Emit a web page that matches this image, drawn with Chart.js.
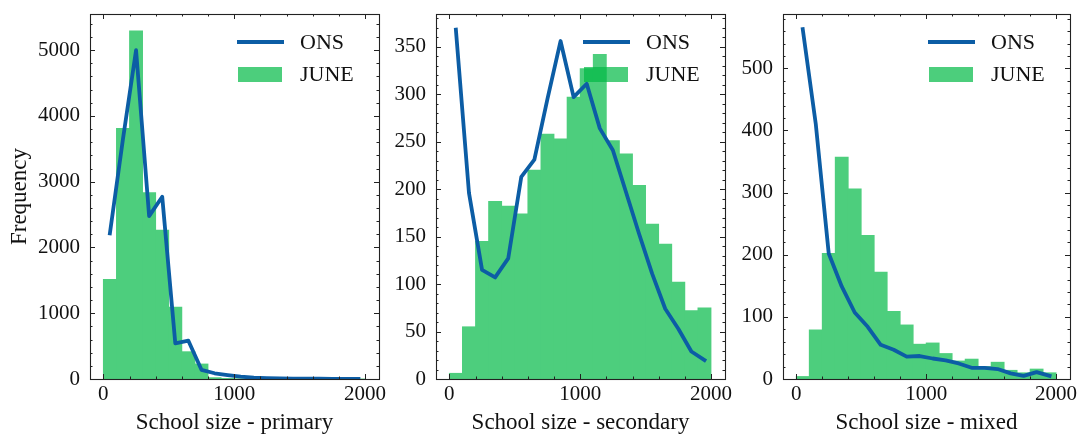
<!DOCTYPE html>
<html>
<head>
<meta charset="utf-8">
<script src="https://cdn.jsdelivr.net/npm/chart.js@4.4.1/dist/chart.umd.min.js"></script>
<style>
  html, body { margin: 0; padding: 0; background: #fff; overflow: hidden; width: 1078px; height: 434px; }
  canvas { position: absolute; top: 0; }
</style>
</head>
<body>
<canvas id="primary" width="400" height="434" style="left:0px"></canvas>
<canvas id="secondary" width="360" height="434" style="left:380px"></canvas>
<canvas id="mixed" width="368" height="434" style="left:720px"></canvas>
<script>
// bin centres of the 100-wide school size bins
const binCenters = [50, 150, 250, 350, 450, 550, 650, 750, 850, 950,
                    1050, 1150, 1250, 1350, 1450, 1550, 1650, 1750, 1850, 1950];

const primaryJune = [1515, 3810, 5294, 2832, 2264, 1094, 415, 228, 20, 8, 4, 2, 1, 1, 1, 0, 0, 0, 0, 0];
const primaryOns  = [2214, 3650, 5000, 2477, 2771, 542, 583, 140, 87, 60, 35, 20, 12, 8, 6, 5, 4, 3, 2, 2];

const secondaryJune = [6, 55, 145, 187, 182, 174, 220, 258, 253, 297, 327, 342, 251, 237, 204, 163, 142, 102, 72, 75];
const secondaryOns  = [368, 196, 115, 107, 127, 213, 231, 295, 356, 297, 311, 264, 241, 197, 153, 111, 74, 53, 29, 20];

const mixedJune = [4, 79, 202, 357, 306, 231, 172, 109, 87, 56, 58, 41, 29, 32, 20, 27, 14, 10, 16, 10];
const mixedOns  = [563, 411, 202, 149, 107, 84, 55, 47, 36, 37, 33, 30, 25, 18, 18, 16, 9, 5, 11, 5];

const xTickLabels = [0, 1000, 2000];
const primaryYTicks = [0, 1000, 2000, 3000, 4000, 5000];
const secondaryYTicks = [0, 50, 100, 150, 200, 250, 300, 350];
const mixedYTicks = [0, 100, 200, 300, 400, 500];

const BLUE = '#0C5DA5';
const GREEN = 'rgb(77,206,125)';        // #00B945 at alpha 0.7 on white
const GREEN_A = 'rgba(0,185,69,0.7)';
const FONT = "'Liberation Serif', 'Times New Roman', serif";

const toPoints = (vals) => binCenters.map((c, i) => ({x: c, y: vals[i]}));

// matplotlib-like frame: inward major/minor ticks on all sides, plus legend in the corner
const frameAndTicks = {
  id: 'frameAndTicks',
  afterDatasetsDraw(chart, args, opts) {
    const {ctx, chartArea: a, scales: {x, y}} = chart;
    ctx.save();
    ctx.strokeStyle = '#222';
    ctx.lineWidth = 1;
    const seg = (x1, y1, x2, y2) => { ctx.beginPath(); ctx.moveTo(x1, y1); ctx.lineTo(x2, y2); ctx.stroke(); };

    for (let v = Math.ceil(x.min / opts.xMinor) * opts.xMinor; v <= x.max; v += opts.xMinor) {
      const px = Math.round(x.getPixelForValue(v)) + 0.5;
      const len = v % opts.xMajor === 0 ? 5 : 2.5;
      seg(px, a.bottom, px, a.bottom - len);
      seg(px, a.top, px, a.top + len);
    }
    for (let v = 0; v <= y.max; v += opts.yMinor) {
      const py = Math.round(y.getPixelForValue(v)) + 0.5;
      const len = Math.abs(v % opts.yMajor) < 1e-9 ? 5 : 2.5;
      seg(a.left, py, a.left + len, py);
      seg(a.right, py, a.right - len, py);
    }
    ctx.lineWidth = 1.1;
    ctx.strokeRect(Math.round(a.left) + 0.5, Math.round(a.top) + 0.5,
                   Math.round(a.right - a.left), Math.round(a.bottom - a.top));

    // legend (no frame)
    ctx.strokeStyle = BLUE;
    ctx.lineWidth = 3.8;
    ctx.lineCap = 'butt';
    seg(a.right - 142, a.top + 28, a.right - 95, a.top + 28);
    ctx.fillStyle = GREEN_A;
    ctx.fillRect(a.right - 141, a.top + 53, 44, 15);
    ctx.fillStyle = '#111';
    ctx.font = '22px ' + FONT;
    ctx.textBaseline = 'middle';
    ctx.textAlign = 'left';
    ctx.fillText('ONS', a.right - 79, a.top + 29);
    ctx.fillText('JUNE', a.right - 79, a.top + 61);
    ctx.restore();
  }
};

function makePanel(id, june, ons, cfg) {
  new Chart(document.getElementById(id), {
    data: {
      datasets: [
        {type: 'line', label: 'ONS', data: toPoints(ons), borderColor: BLUE, borderWidth: 3.8,
         pointRadius: 0, tension: 0, borderJoinStyle: 'round', borderCapStyle: 'square', order: 0},
        {type: 'bar', label: 'JUNE', data: toPoints(june), backgroundColor: GREEN, borderWidth: 0,
         barPercentage: 1, categoryPercentage: 1, inflateAmount: 0.4, order: 1}
      ]
    },
    options: {
      responsive: false,
      animation: false,
      devicePixelRatio: 1,
      layout: {padding: {top: 14, right: cfg.right, left: 0, bottom: 0}},
      plugins: {
        legend: {display: false},
        tooltip: {enabled: false},
        frameAndTicks: {xMajor: 1000, xMinor: 200, yMajor: cfg.yMajor, yMinor: cfg.yMinor}
      },
      scales: {
        x: {
          type: 'linear', min: -102, max: 2107, offset: false,
          grid: {display: false, drawTicks: false, offset: false}, border: {display: false},
          afterBuildTicks: (s) => { s.ticks = xTickLabels.map(v => ({value: v})); },
          ticks: {padding: 3, color: '#111', callback: (v) => String(v),
                  font: {family: FONT, size: 21, lineHeight: 1.2}},
          title: {display: true, text: cfg.xTitle, color: '#111', padding: {top: 0, bottom: 0},
                  font: {family: FONT, size: 23, lineHeight: 1}},
          afterFit: (s) => { s.height = 55; s.paddingLeft = 0; s.paddingRight = 0; }
        },
        y: {
          min: 0, max: cfg.yMax,
          grid: {display: false, drawTicks: false}, border: {display: false},
          afterBuildTicks: (s) => { s.ticks = cfg.yTicks.map(v => ({value: v})); },
          ticks: {padding: 10, color: '#111', callback: (v) => String(v),
                  font: {family: FONT, size: 21, lineHeight: 1.2}},
          title: {display: !!cfg.yTitle, text: cfg.yTitle || '', color: '#111', padding: {top: 6, bottom: 0},
                  font: {family: FONT, size: 23, lineHeight: 1.2}},
          afterFit: (s) => { s.width = cfg.yWidth; s.paddingTop = 0; s.paddingBottom = 0; }
        }
      }
    },
    plugins: [frameAndTicks]
  });
}

makePanel('primary', primaryJune, primaryOns,
  {xTitle: 'School size - primary', yTitle: 'Frequency', yMax: 5550, yTicks: primaryYTicks,
   yMajor: 1000, yMinor: 200, yWidth: 90, right: 21});
makePanel('secondary', secondaryJune, secondaryOns,
  {xTitle: 'School size - secondary', yMax: 384.5, yTicks: secondaryYTicks,
   yMajor: 50, yMinor: 10, yWidth: 56, right: 15});
makePanel('mixed', mixedJune, mixedOns,
  {xTitle: 'School size - mixed', yMax: 587.5, yTicks: mixedYTicks,
   yMajor: 100, yMinor: 20, yWidth: 63, right: 18});
</script>
</body>
</html>
